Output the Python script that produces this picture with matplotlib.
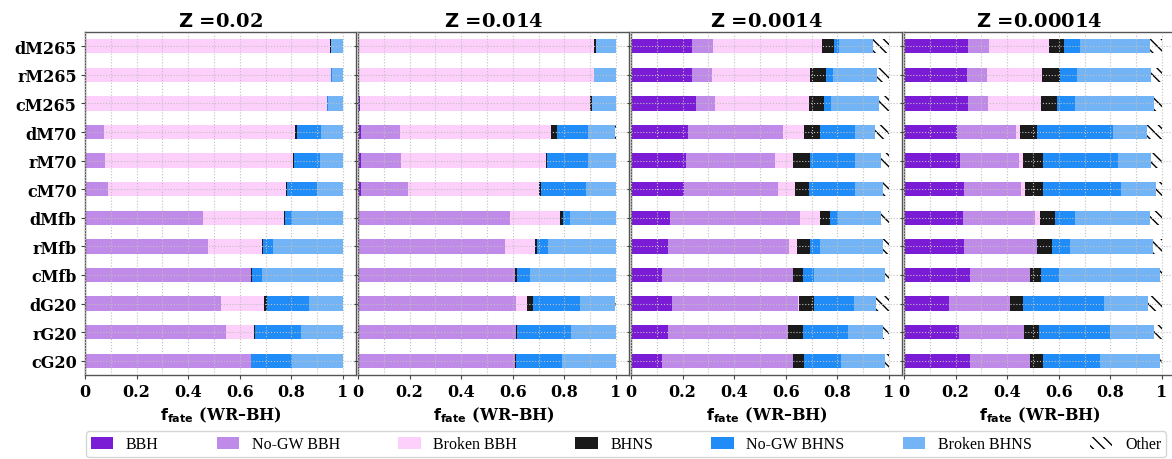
import matplotlib
matplotlib.use("Agg")
import numpy as np
import matplotlib.pyplot as plt
from matplotlib.patches import Patch
from matplotlib.ticker import MultipleLocator

# Models (rows, top to bottom) and metallicities (panels)
models = ["dM265", "rM265", "cM265", "dM70", "rM70", "cM70",
          "dMfb", "rMfb", "cMfb", "dG20", "rG20", "cG20"]
metallicities = ["0.02", "0.014", "0.0014", "0.00014"]
fate_names = ["BBH", "No-GW BBH", "Broken BBH", "BHNS",
              "No-GW BHNS", "Broken BHNS", "Other"]
fate_colors = ["#7a1bd6", "#c08ae8", "#fdd0fb", "#1a1a1a",
               "#1f8cf8", "#72b4f5"]

# Z = 0.02
z1_bbh = [0, 0, 0, 0, 0, 0, 0, 0, 0, 0, 0, 0]
z1_nogw_bbh = [0, 0, 0, 0.074, 0.076, 0.091, 0.459, 0.475, 0.642, 0.528, 0.546, 0.642]
z1_broken_bbh = [0.950, 0.952, 0.938, 0.738, 0.729, 0.688, 0.311, 0.211, 0.0, 0.164, 0.109, 0.0]
z1_bhns = [0.003, 0.002, 0.001, 0.010, 0.003, 0.003, 0.004, 0.004, 0.005, 0.013, 0.003, 0.003]
z1_nogw_bhns = [0.0, 0.003, 0.004, 0.091, 0.104, 0.118, 0.028, 0.038, 0.040, 0.163, 0.180, 0.157]
z1_broken_bhns = [0.047, 0.043, 0.057, 0.087, 0.088, 0.100, 0.198, 0.272, 0.313, 0.132, 0.162, 0.198]
z1_other = [0, 0, 0, 0, 0, 0, 0, 0, 0, 0, 0, 0]

# Z = 0.014
z2_bbh = [0.0, 0.0, 0.006, 0.010, 0.010, 0.010, 0.0, 0.0, 0.0, 0.0, 0.0, 0.0]
z2_nogw_bbh = [0, 0, 0, 0.153, 0.157, 0.184, 0.590, 0.569, 0.608, 0.613, 0.613, 0.608]
z2_broken_bbh = [0.916, 0.913, 0.894, 0.585, 0.560, 0.508, 0.193, 0.115, 0.0, 0.043, 0.0, 0.0]
z2_bhns = [0.006, 0.003, 0.005, 0.022, 0.005, 0.006, 0.013, 0.009, 0.009, 0.021, 0.004, 0.005]
z2_nogw_bhns = [0.0, 0.0, 0.0, 0.123, 0.158, 0.176, 0.027, 0.043, 0.051, 0.182, 0.207, 0.177]
z2_broken_bhns = [0.078, 0.084, 0.095, 0.101, 0.110, 0.116, 0.177, 0.264, 0.332, 0.135, 0.176, 0.210]
z2_other = [0, 0, 0, 0.006, 0, 0, 0, 0, 0, 0.006, 0, 0]

# Z = 0.0014
z3_bbh = [0.237, 0.237, 0.250, 0.221, 0.212, 0.204, 0.151, 0.144, 0.122, 0.157, 0.145, 0.122]
z3_nogw_bbh = [0.081, 0.077, 0.077, 0.368, 0.347, 0.366, 0.502, 0.467, 0.505, 0.490, 0.465, 0.505]
z3_broken_bbh = [0.421, 0.381, 0.363, 0.081, 0.068, 0.066, 0.081, 0.031, 0.0, 0.005, 0.0, 0.0]
z3_bhns = [0.048, 0.062, 0.056, 0.062, 0.068, 0.055, 0.036, 0.051, 0.041, 0.057, 0.057, 0.043]
z3_nogw_bhns = [0.020, 0.026, 0.030, 0.137, 0.173, 0.178, 0.032, 0.041, 0.041, 0.154, 0.172, 0.143]
z3_broken_bhns = [0.132, 0.169, 0.185, 0.077, 0.102, 0.109, 0.166, 0.243, 0.275, 0.088, 0.137, 0.171]
z3_other = [0.061, 0.048, 0.039, 0.054, 0.030, 0.022, 0.032, 0.023, 0.016, 0.049, 0.024, 0.016]

# Z = 0.00014
z4_bbh = [0.248, 0.245, 0.248, 0.206, 0.217, 0.234, 0.229, 0.233, 0.255, 0.173, 0.212, 0.255]
z4_nogw_bbh = [0.082, 0.076, 0.078, 0.228, 0.228, 0.220, 0.279, 0.283, 0.235, 0.238, 0.252, 0.235]
z4_broken_bbh = [0.231, 0.215, 0.203, 0.016, 0.017, 0.013, 0.019, 0.0, 0.0, 0.0, 0.0, 0.0]
z4_bhns = [0.059, 0.068, 0.065, 0.065, 0.075, 0.073, 0.058, 0.057, 0.042, 0.051, 0.059, 0.047]
z4_nogw_bhns = [0.063, 0.067, 0.068, 0.294, 0.292, 0.302, 0.076, 0.071, 0.070, 0.314, 0.274, 0.224]
z4_broken_bhns = [0.270, 0.286, 0.308, 0.132, 0.128, 0.135, 0.292, 0.322, 0.388, 0.171, 0.173, 0.229]
z4_other = [0.047, 0.043, 0.030, 0.059, 0.043, 0.023, 0.047, 0.034, 0.010, 0.053, 0.030, 0.010]

panels = [
    [z1_bbh, z1_nogw_bbh, z1_broken_bbh, z1_bhns, z1_nogw_bhns, z1_broken_bhns, z1_other],
    [z2_bbh, z2_nogw_bbh, z2_broken_bbh, z2_bhns, z2_nogw_bhns, z2_broken_bhns, z2_other],
    [z3_bbh, z3_nogw_bbh, z3_broken_bbh, z3_bhns, z3_nogw_bhns, z3_broken_bhns, z3_other],
    [z4_bbh, z4_nogw_bbh, z4_broken_bbh, z4_bhns, z4_nogw_bhns, z4_broken_bhns, z4_other],
]

plt.rcParams["mathtext.fontset"] = "custom"
plt.rcParams["mathtext.sf"] = "DejaVu Sans:bold"
plt.rcParams["mathtext.rm"] = "DejaVu Serif:bold"
plt.rcParams["hatch.linewidth"] = 1.0

W, H = 1172, 460
fig = plt.figure(figsize=(W / 100, H / 100), dpi=100)

ax_left_px = [85, 358, 631, 904]
ax_w_px, ax_b_px, ax_h_px = 271, 84, 343
hatch_other = "\\\\\\"
ypos = np.arange(len(models))
bar_h = 0.5

serif_bold = dict(family="DejaVu Serif", weight="bold")

for i, (z, fates) in enumerate(zip(metallicities, panels)):
    ax = fig.add_axes([ax_left_px[i] / W, ax_b_px / H, ax_w_px / W, ax_h_px / H])
    left = np.zeros(len(models))
    for k, vals in enumerate(fates):
        vals = np.asarray(vals, dtype=float)
        if k < 6:
            ax.barh(ypos, vals, left=left, height=bar_h,
                    color=fate_colors[k], linewidth=0, zorder=1)
        else:
            ax.barh(ypos, vals, left=left, height=bar_h,
                    facecolor="none", edgecolor="black", hatch=hatch_other,
                    linewidth=0, zorder=1)
        left = left + vals

    ax.set_xlim(0, 1.05)
    ax.set_ylim(len(models) - 0.5, -0.5)
    ax.set_xticks([0, 0.2, 0.4, 0.6, 0.8, 1.0])
    ax.set_xticklabels(["0", "0.2", "0.4", "0.6", "0.8", "1"], **serif_bold, fontsize=11.5)
    ax.xaxis.set_minor_locator(MultipleLocator(0.1))
    ax.set_yticks(ypos)
    if i == 0:
        ax.set_yticklabels(models, **serif_bold, fontsize=11.5)
    else:
        ax.set_yticklabels([])
    ax.tick_params(axis="both", which="major", length=3, width=0.8, color="#444444", pad=3)
    ax.tick_params(axis="x", which="minor", length=0)
    ax.grid(True, which="both", axis="x", linestyle=":", color="#c0c0c0", linewidth=0.8, zorder=2)
    ax.grid(True, which="major", axis="y", linestyle=":", color="#c0c0c0", linewidth=0.8, zorder=2)
    ax.set_axisbelow(False)
    for sp in ax.spines.values():
        sp.set_color("#555555")
        sp.set_linewidth(1.0)

    ax.set_title(r"$\mathsf{Z}$ =" + z, fontsize=14, pad=4, **serif_bold)
    ax.set_xlabel(r"$\mathsf{f}_{\mathsf{fate}}$ (WR–BH)", fontsize=11.5, labelpad=3, **serif_bold)

handles = [Patch(facecolor=c, edgecolor="none") for c in fate_colors]
handles.append(Patch(facecolor="none", edgecolor="black", hatch=hatch_other, linewidth=0))
fig.legend(handles, fate_names, loc="lower left",
           bbox_to_anchor=(86 / W, 2 / H, (1166 - 86) / W, 24 / H),
           mode="expand", ncol=7, frameon=True, fancybox=True,
           edgecolor="#cccccc", handlelength=1.4, handleheight=0.8,
           borderaxespad=0, borderpad=0.3, columnspacing=1.0,
           prop=dict(family="Liberation Serif", size=11.5))

fig.savefig("out.png", dpi=100)
